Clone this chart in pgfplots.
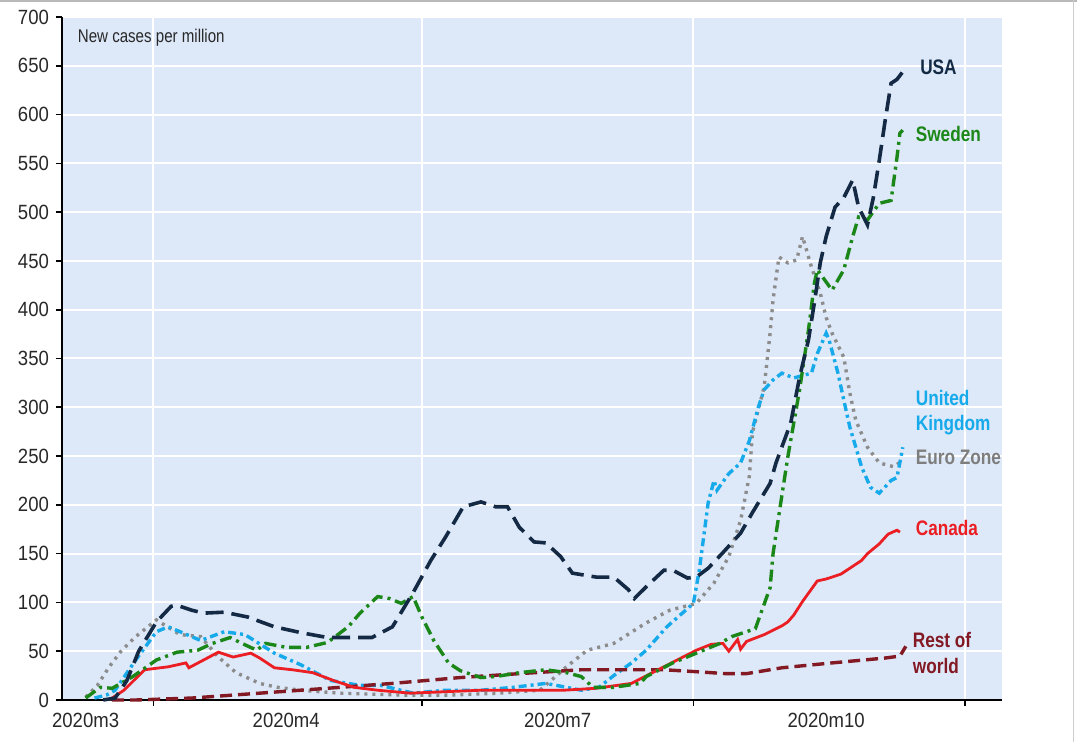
\documentclass[border=0pt]{standalone}
\usepackage{pgfplots}
\pgfplotsset{compat=1.18}
\usepackage{fontspec}
\setmainfont{Liberation Sans}
\newfontfamily\labfont[FakeStretch=0.82]{Liberation Sans}
\newfontfamily\tickfont[FakeStretch=0.9]{Liberation Sans}
\definecolor{bgblue}{RGB}{221,233,249}
\definecolor{colUSA}{RGB}{20,42,68}
\definecolor{colSWE}{RGB}{28,135,25}
\definecolor{colUK}{RGB}{22,170,235}
\definecolor{colEZ}{RGB}{140,140,140}
\definecolor{colCAN}{RGB}{235,30,35}
\definecolor{colROW}{RGB}{130,25,35}
\definecolor{txt}{RGB}{40,40,40}

\begin{document}
\begin{tikzpicture}
\path[use as bounding box] (-31pt,-21pt) rectangle (507.5pt,350pt);
\begin{axis}[
  at={(0,0)}, anchor=south west,
  scale only axis,
  width=470pt, height=341.5pt,
  xmin=0, xmax=318.6,
  ymin=0, ymax=700,
  axis background/.style={fill=bgblue},
  axis x line*=bottom, axis y line*=left,
  axis line style={black, line width=1.2pt, -},
  xtick={31,122,214,306}, xticklabels={},
  ytick={0,50,...,700},
  tick align=outside,
  major tick length=3pt,
  tick style={black, line width=0.8pt},
  xmajorgrids, ymajorgrids,
  grid style={white, line width=1pt},
  ticklabel style={font=\tickfont\fontsize{10.3}{12}\selectfont, text=txt},
  /pgf/number format/assume math mode=true,
  clip=false,
]
% Euro Zone
\addplot[colEZ, line width=1.7pt, dash pattern=on 1.5pt off 2.5pt] coordinates {
 (8,3) (12,15) (16,34) (20,50) (25,65) (32,82) (40,67) (47,65) (53,44) (59,28)
 (67,17) (73,13) (81,10) (94,7) (115,5) (131,5) (148,7) (162,10) (171,34) (178,51)
 (187,58) (198,79) (206,92) (215,99) (221,120) (226,147) (230,184) (233,230) (234,274)
 (238,321) (240,376) (241,410) (243,454) (246,448) (249,451) (251,475) (254,444)
 (257,417) (259,392) (261,376) (265,351) (267,315) (269,287) (273,259) (277,243)
 (282,239) (285,246)
};
% United Kingdom
\addplot[colUK, line width=1.7pt, dash pattern=on 4pt off 2pt on 1.5pt off 2pt] coordinates {
 (11,2) (15,5) (18,10) (25,41) (32,70) (36,75) (40,70) (47,61) (55,70) (62,67)
 (72,48) (81,36) (91,20) (101,15) (108,15) (119,7) (130,10) (142,10) (153,13)
 (164,17) (171,13) (176,10) (182,13) (187,25) (193,38) (198,51) (205,75) (214,99)
 (216,133) (219,202) (221,225) (222,215) (226,232) (230,243) (233,266) (236,300)
 (238,318) (241,328) (244,335) (248,330) (254,335) (256,355) (259,376) (260,369)
 (263,335) (265,307) (267,280) (271,239) (274,218) (277,212) (281,225) (283,228)
 (285,259)
};
% Rest of world
\addplot[colROW, line width=1.7pt, dash pattern=on 6pt off 3pt] coordinates {
 (17,0) (25,0) (44,2) (67,7) (90,12) (112,17) (135,23) (155,27) (176,31) (204,31)
 (215,29) (225,27) (232,27) (244,33) (261,38) (279,43) (284,45) (286,55)
};
% Canada
\addplot[colCAN, line width=1.4pt] coordinates {
 (16,0) (21,10) (28,31) (36,34) (42,38) (43,33) (48,41) (53,49) (58,44) (64,48)
 (67,43) (72,33) (78,31) (85,28) (92,20) (99,13) (107,10) (118,7) (142,10) (170,10)
 (181,12) (193,17) (204,34) (215,51) (220,57) (224,58) (226,50) (229,62) (230,52)
 (232,60) (238,67) (244,76) (246,80) (248,87) (251,101) (256,122) (259,124)
 (264,129) (271,143) (273,150) (277,160) (280,170) (283,174) (284,172)
};
% Sweden
\addplot[colSWE, line width=1.7pt, dash pattern=on 6pt off 2.5pt on 1.5pt off 2.5pt] coordinates {
 (8,2) (13,13) (17,12) (24,24) (32,41) (39,49) (46,51) (51,58) (57,64) (61,58)
 (66,51) (69,58) (76,54) (83,54) (90,59) (97,75) (101,89) (107,106) (111,104)
 (115,99) (119,106) (122,85) (126,61) (131,38) (135,30) (142,23) (147,24) (155,28)
 (164,31) (171,28) (176,24) (180,13) (187,13) (196,17) (198,24) (207,38) (215,48)
 (223,58) (227,65) (231,69) (235,73) (237,90) (240,115) (241,150) (243,190)
 (246,249) (250,318) (253,379) (255,427) (256,441) (261,420) (265,441) (268,475)
 (270,495) (273,492) (277,509) (281,512) (283,556) (284,581) (285,584)
};
% USA
\addplot[colUSA, line width=1.8pt, dash pattern=on 9pt off 4pt] coordinates {
 (14,0) (18,2) (22,20) (26,50) (32,80) (37,96) (39,97) (44,92) (48,89) (55,90)
 (63,85) (72,75) (81,69) (90,64) (99,64) (105,64) (112,75) (119,110) (125,143)
 (130,167) (136,198) (142,203) (147,198) (151,198) (155,177) (160,162) (164,161)
 (169,147) (173,130) (181,126) (187,126) (192,113) (194,104) (198,116) (204,133)
 (207,133) (212,125) (215,126) (219,135) (224,151) (230,171) (234,192) (240,222)
 (242,243) (247,284) (250,331) (253,369) (255,407) (257,448) (259,475) (262,505)
 (265,515) (268,533) (270,505) (273,487) (275,515) (277,553) (279,594) (281,632)
 (283,636) (286,648)
};
% annotations
\node[anchor=west, text=txt, font=\labfont\fontsize{9.2}{11}\selectfont] at (axis cs:3,679) {New cases per million};
\node[anchor=north, text=txt, font=\tickfont\fontsize{10.3}{12}\selectfont, yshift=-3pt] at (axis cs:8,0) {2020m3};
\node[anchor=north, text=txt, font=\tickfont\fontsize{10.3}{12}\selectfont, yshift=-3pt] at (axis cs:76,0) {2020m4};
\node[anchor=north, text=txt, font=\tickfont\fontsize{10.3}{12}\selectfont, yshift=-3pt] at (axis cs:168,0) {2020m7};
\node[anchor=north, text=txt, font=\tickfont\fontsize{10.3}{12}\selectfont, yshift=-3pt] at (axis cs:259,0) {2020m10};
\node[anchor=west, text=colUSA, font=\labfont\bfseries\fontsize{10.5}{12}\selectfont] at (axis cs:288.5,648) {USA};
\node[anchor=west, text=colSWE, font=\labfont\bfseries\fontsize{10.5}{12}\selectfont] at (axis cs:287,580) {Sweden};
\node[anchor=west, align=left, text=colUK, font=\labfont\bfseries\fontsize{10.5}{12.5}\selectfont] at (axis cs:287,295) {United\\Kingdom};
\node[anchor=west, text=colEZ!90!black, font=\labfont\bfseries\fontsize{10.5}{12}\selectfont] at (axis cs:287,249) {Euro Zone};
\node[anchor=west, text=colCAN, font=\labfont\bfseries\fontsize{10.5}{12}\selectfont] at (axis cs:287,176) {Canada};
\node[anchor=west, align=left, text=colROW, font=\labfont\bfseries\fontsize{10.5}{13}\selectfont] at (axis cs:286,48) {Rest of\\world};
\end{axis}
\draw[gray!55, line width=1.2pt] (-31pt,349.4pt) -- (507.5pt,349.4pt);
\draw[gray!40, line width=0.8pt] (505.8pt,-21pt) -- (505.8pt,350pt);
\end{tikzpicture}
\end{document}
